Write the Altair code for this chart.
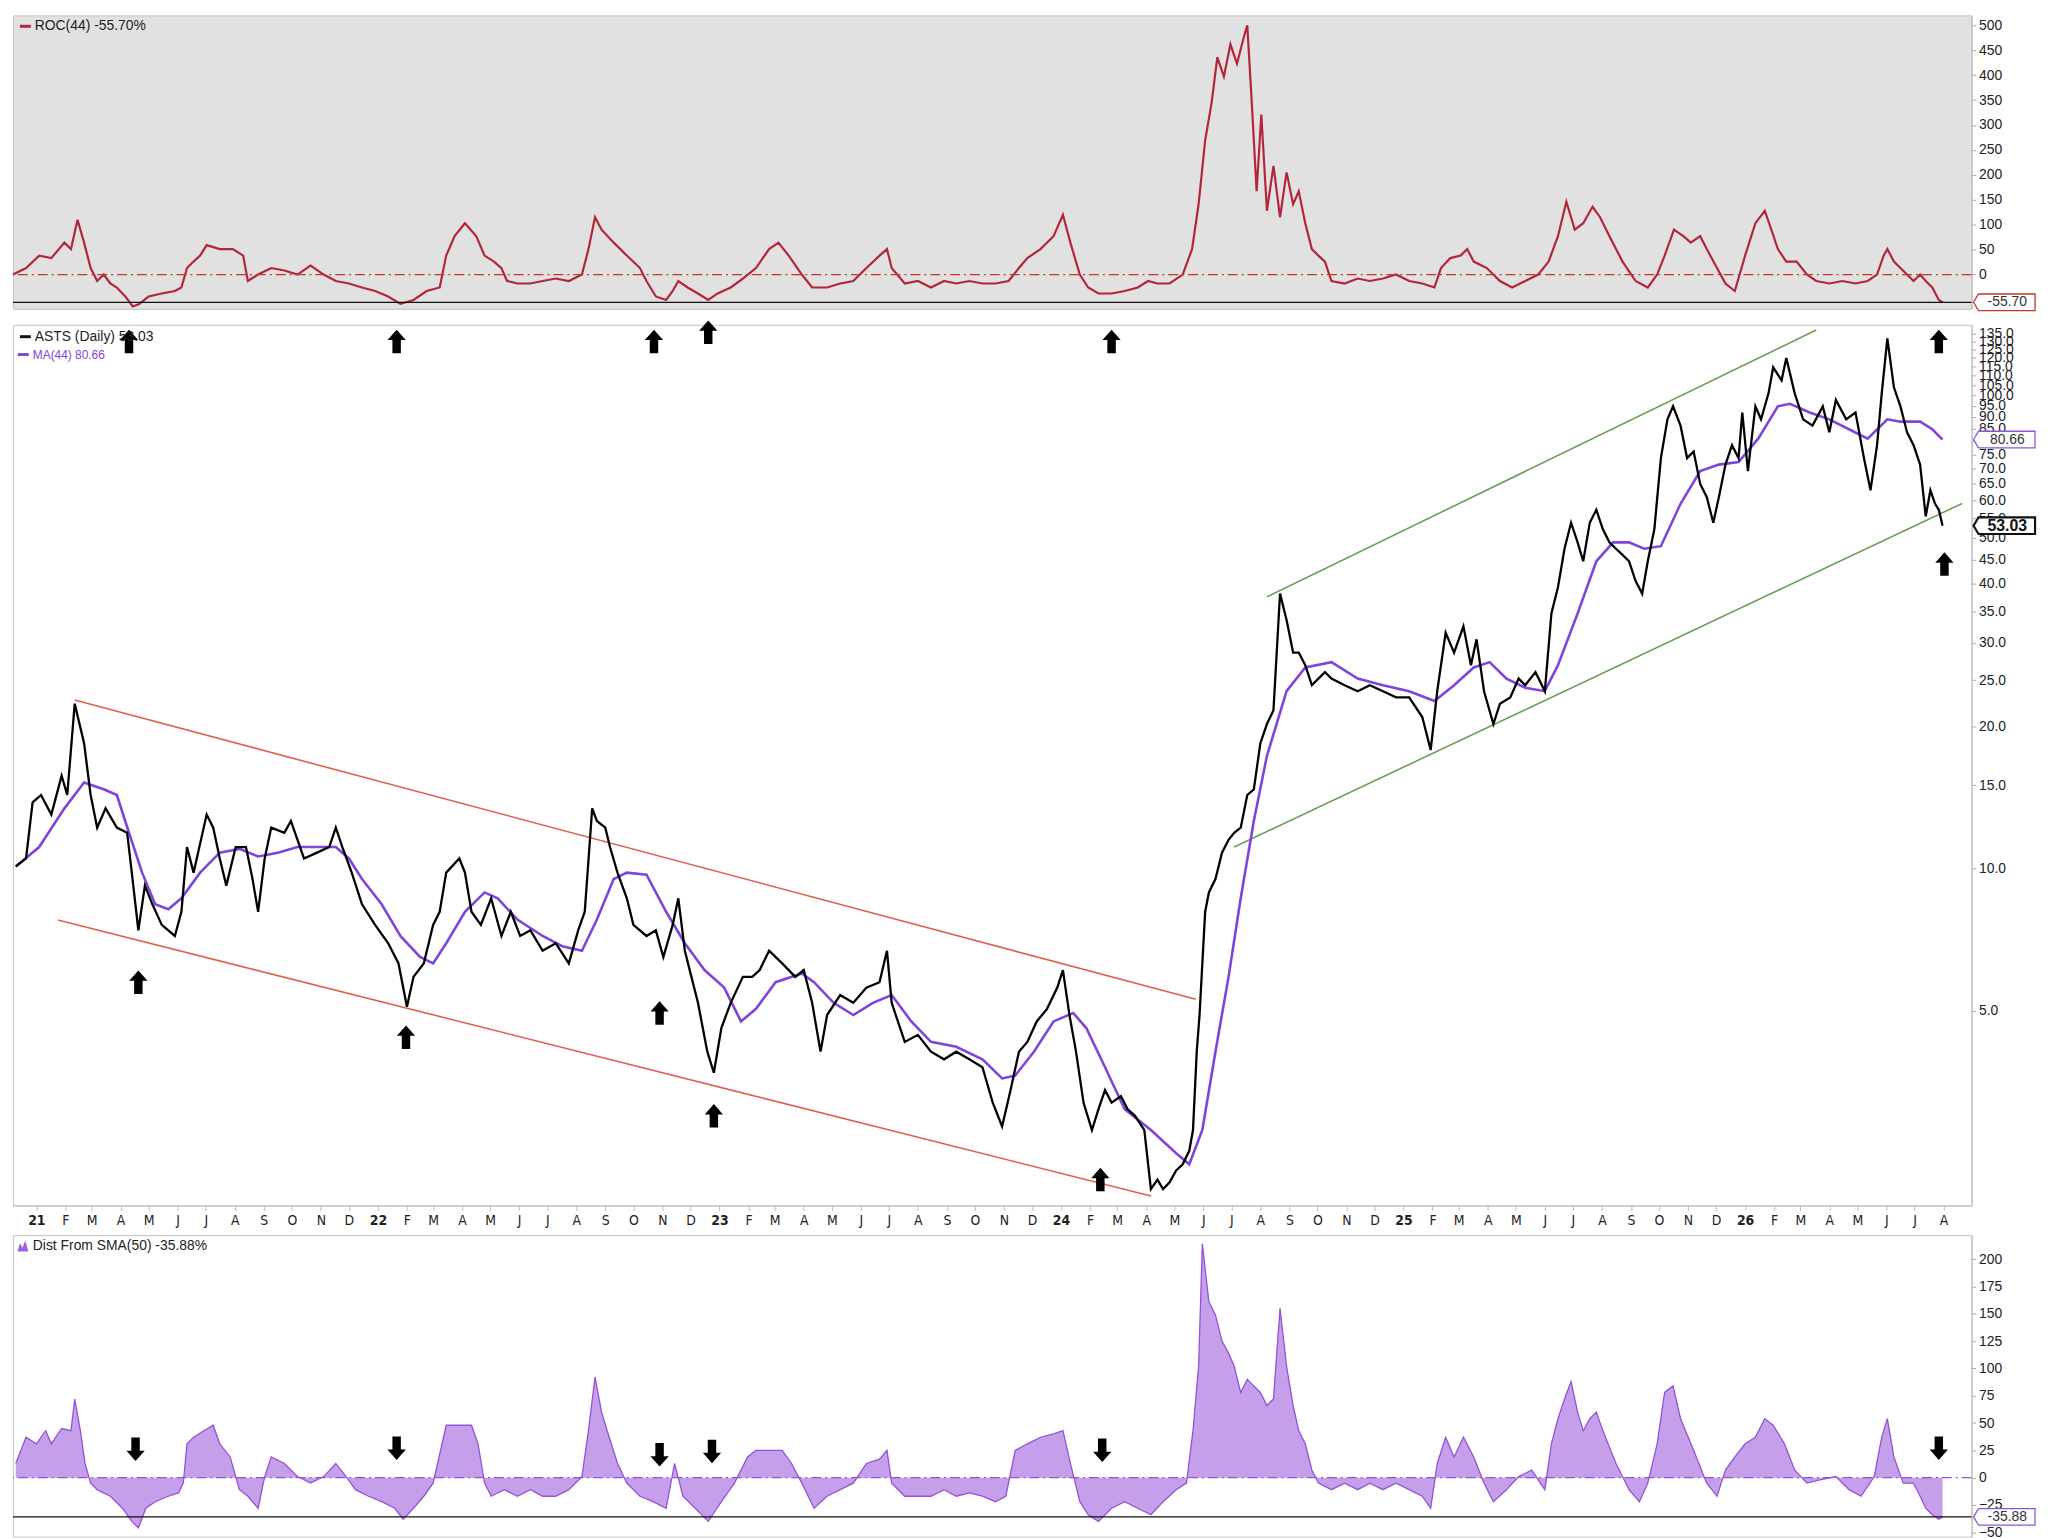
import altair as alt
import pandas as pd

# ---------------- data ----------------
START = pd.Timestamp("2020-12-07")   # day 0 of every *_day list

price_day = [3, 14, 21, 30, 41, 52, 58, 66, 76, 83,
             90, 99, 111, 122, 127, 134, 141, 149, 159, 173,
             180, 186, 193, 207, 214, 221, 228, 238, 249, 256,
             262, 269, 276, 290, 297, 311, 325, 338, 345, 352,
             362, 373, 387, 401, 412, 421, 428, 439, 449, 456,
             463, 477, 483, 490, 500, 511, 522, 532, 542, 553,
             566, 580, 594, 604, 611, 619, 624, 633, 638, 646,
             656, 663, 677, 687, 695, 705, 711, 718, 725, 732,
             742, 749, 757, 767, 780, 790, 798, 808, 822, 836,
             845, 854, 863, 870, 884, 898, 912, 926, 934, 939,
             953, 967, 981, 995, 1008, 1022, 1036, 1047, 1057, 1066,
             1075, 1084, 1094, 1105, 1116, 1122, 1129, 1136, 1144, 1153,
             1160, 1167, 1174, 1184, 1191, 1199, 1209, 1216, 1223, 1229,
             1236, 1243, 1250, 1257, 1261, 1265, 1268, 1274, 1278, 1285,
             1292, 1299, 1305, 1312, 1319, 1326, 1333, 1340, 1347, 1354,
             1361, 1368, 1374, 1381, 1388, 1395, 1402, 1409, 1423, 1437,
             1450, 1464, 1478, 1492, 1506, 1515, 1522, 1531, 1540, 1550,
             1558, 1564, 1572, 1582, 1589, 1600, 1609, 1616, 1627, 1637,
             1644, 1651, 1658, 1665, 1672, 1678, 1685, 1692, 1699, 1706,
             1713, 1720, 1727, 1734, 1741, 1747, 1754, 1761, 1768, 1774,
             1782, 1789, 1796, 1803, 1810, 1817, 1823, 1830, 1837, 1844,
             1848, 1854, 1862, 1868, 1876, 1881, 1890, 1895, 1904, 1913,
             1923, 1934, 1941, 1948, 1959, 1969, 1978, 1985, 1992, 1997,
             2003, 2010, 2017, 2024, 2031, 2038, 2044, 2049, 2054, 2058,
             2062]
price_val = [10.1, 10.5, 13.8, 14.3, 13.0, 15.7, 14.3, 22.3, 18.4, 14.3,
             12.2, 13.4, 12.2, 11.9, 9.8, 7.4, 9.2, 8.4, 7.6, 7.2,
             8.1, 11.1, 9.8, 13.0, 12.2, 10.5, 9.2, 11.1, 11.1, 9.5,
             8.1, 10.5, 12.2, 11.9, 12.6, 10.5, 10.8, 11.1, 12.2, 11.1,
             9.8, 8.4, 7.6, 6.95, 6.3, 5.1, 5.9, 6.3, 7.6, 8.1,
             9.8, 10.5, 9.8, 8.1, 7.6, 8.65, 7.2, 8.1, 7.2, 7.4,
             6.7, 6.95, 6.3, 7.4, 8.1, 13.4, 12.6, 12.2, 11.1, 9.8,
             8.65, 7.6, 7.2, 7.4, 6.5, 7.6, 8.65, 6.7, 5.9, 5.2,
             4.1, 3.7, 4.6, 5.2, 5.9, 5.9, 6.1, 6.7, 6.3, 5.9,
             6.1, 5.2, 4.1, 4.9, 5.4, 5.2, 5.6, 5.75, 6.7, 5.2,
             4.3, 4.45, 4.1, 3.95, 4.1, 3.95, 3.8, 3.2, 2.85, 3.4,
             4.1, 4.3, 4.75, 5.05, 5.6, 6.1, 4.9, 4.1, 3.2, 2.8,
             3.1, 3.4, 3.2, 3.3, 3.1, 3.0, 2.8, 2.1, 2.2, 2.1,
             2.17, 2.3, 2.37, 2.53, 2.8, 4.1, 4.9, 8.1, 8.9, 9.5,
             10.8, 11.5, 11.9, 12.2, 14.3, 14.7, 18.4, 20.2, 21.6, 38.1,
             33.5, 28.6, 28.6, 26.9, 24.4, 25.2, 26.0, 25.2, 24.4, 23.7,
             24.4, 23.7, 23.0, 23.0, 20.9, 17.8, 23.7, 31.5, 28.6, 32.5,
             26.9, 30.5, 23.7, 20.2, 22.3, 23.0, 25.2, 24.4, 26.0, 23.7,
             34.6, 39.3, 47.4, 53.8, 48.9, 44.6, 53.8, 57.3, 52.1, 48.9,
             47.4, 46.0, 44.6, 40.5, 38.1, 44.6, 52.1, 73.7, 89.0, 94.8,
             86.3, 73.7, 76.1, 65.0, 61.0, 53.8, 61.0, 71.4, 78.5, 73.7,
             92.0, 69.2, 94.8, 89.0, 101.0, 114.6, 107.6, 120.0, 101.0, 89.0,
             86.3, 94.8, 83.6, 97.8, 89.0, 92.0, 73.7, 63.0, 78.5, 101.0,
             132.0, 104.0, 94.8, 83.6, 78.5, 71.4, 55.5, 63.0, 59.0, 57.3,
             53.03]

ma_day = [3, 28, 55, 76, 97, 111, 124, 138, 152, 166,
          180, 200, 221, 242, 262, 283, 304, 325, 345, 359,
          373, 394, 414, 435, 449, 463, 483, 504, 518, 539,
          566, 587, 608, 624, 642, 656, 677, 698, 718, 739,
          760, 778, 794, 815, 843, 856, 877, 898, 919, 939,
          960, 981, 1008, 1036, 1057, 1071, 1091, 1112, 1133, 1147,
          1167, 1188, 1216, 1243, 1257, 1271, 1285, 1299, 1312, 1326,
          1340, 1361, 1381, 1409, 1437, 1464, 1492, 1519, 1540, 1561,
          1578, 1596, 1616, 1637, 1651, 1672, 1692, 1710, 1727, 1743,
          1761, 1782, 1803, 1823, 1844, 1865, 1886, 1899, 1920, 1941,
          1962, 1982, 2003, 2017, 2038, 2051, 2062]
ma_val = [10.1, 11.1, 13.4, 15.2, 14.7, 14.3, 11.9, 9.8, 8.4, 8.2,
          8.65, 9.8, 10.8, 11.0, 10.6, 10.8, 11.1, 11.1, 11.1, 10.5,
          9.5, 8.4, 7.2, 6.5, 6.3, 6.95, 8.1, 8.9, 8.65, 7.8,
          7.2, 6.85, 6.7, 7.8, 9.5, 9.8, 9.7, 8.1, 6.95, 6.1,
          5.6, 4.75, 5.05, 5.75, 6.0, 5.75, 5.2, 4.9, 5.2, 5.4,
          4.75, 4.3, 4.2, 3.95, 3.6, 3.65, 4.1, 4.75, 4.95, 4.6,
          3.8, 3.1, 2.8, 2.5, 2.37, 2.8, 4.1, 5.9, 8.65, 12.6,
          17.3, 23.7, 26.6, 27.3, 25.2, 24.4, 23.7, 22.6, 24.4, 26.6,
          27.3, 25.2, 24.1, 23.7, 26.9, 34.6, 44.6, 48.9, 48.9, 47.4,
          48.0, 59.0, 69.2, 71.4, 72.3, 81.0, 94.8, 96.0, 92.0, 89.0,
          84.8, 81.0, 89.0, 88.0, 88.0, 84.8, 80.66]

roc_day = [0, 14, 28, 41, 55, 62, 69, 76, 83, 90,
           97, 104, 111, 120, 128, 135, 145, 159, 173, 180,
           186, 193, 200, 207, 221, 235, 246, 251, 262, 276,
           290, 304, 318, 332, 345, 359, 373, 387, 401, 414,
           428, 442, 456, 463, 472, 483, 495, 504, 514, 522,
           528, 539, 553, 566, 580, 594, 608, 615, 622, 629,
           642, 656, 670, 677, 687, 698, 705, 711, 721, 732,
           743, 753, 767, 780, 794, 808, 818, 829, 843, 854,
           870, 884, 898, 912, 926, 934, 939, 953, 967, 981,
           995, 1008, 1022, 1036, 1050, 1064, 1075, 1084, 1098, 1112,
           1122, 1130, 1140, 1149, 1160, 1174, 1188, 1202, 1213, 1223,
           1236, 1250, 1260, 1267, 1274, 1281, 1287, 1294, 1301, 1308,
           1315, 1319, 1323, 1329, 1334, 1340, 1347, 1354, 1361, 1368,
           1374, 1381, 1388, 1395, 1402, 1409, 1423, 1437, 1450, 1464,
           1478, 1492, 1506, 1519, 1526, 1536, 1547, 1554, 1561, 1575,
           1589, 1602, 1616, 1630, 1641, 1651, 1660, 1669, 1678, 1688,
           1696, 1706, 1720, 1734, 1747, 1757, 1765, 1775, 1785, 1793,
           1803, 1810, 1821, 1830, 1840, 1851, 1862, 1872, 1879, 1886,
           1895, 1906, 1917, 1927, 1941, 1955, 1969, 1982, 1992, 1999,
           2003, 2010, 2017, 2024, 2031, 2038, 2044, 2051, 2058, 2062]
roc_val = [0, 13, 38, 33, 64, 51, 110, 64, 13, -13,
           0, -18, -26, -44, -64, -59, -44, -38, -33, -26,
           13, 26, 38, 59, 51, 51, 38, -13, 0, 13,
           8, 0, 18, 0, -13, -18, -26, -33, -44, -59,
           -51, -33, -26, 38, 77, 103, 77, 38, 26, 13,
           -13, -18, -18, -13, -8, -13, 0, 51, 115, 90,
           64, 38, 13, -13, -44, -51, -33, -13, -26, -38,
           -51, -38, -26, -8, 13, 51, 64, 38, 0, -26,
           -26, -18, -13, 13, 38, 51, 13, -18, -13, -26,
           -13, -18, -13, -18, -18, -13, 13, 33, 51, 77,
           120, 64, 0, -26, -38, -38, -33, -26, -13, -18,
           -18, 0, 51, 141, 269, 346, 436, 397, 462, 423,
           474, 500, 372, 167, 321, 128, 218, 115, 205, 141,
           167, 103, 51, 38, 26, -13, -18, -8, -13, -8,
           0, -13, -18, -26, 13, 33, 38, 51, 26, 13,
           -13, -26, -13, 0, 26, 77, 146, 90, 103, 136,
           115, 77, 26, -13, -26, 0, 38, 90, 77, 64,
           77, 51, 13, -18, -33, 38, 103, 128, 90, 51,
           26, 26, 0, -13, -18, -13, -18, -13, 0, 38,
           51, 26, 13, 0, -13, 0, -13, -26, -51, -55.7]

dist_day = [3, 14, 25, 35, 41, 52, 62, 66, 72, 77,
            83, 90, 104, 117, 127, 134, 142, 152, 166, 177,
            182, 186, 193, 204, 214, 221, 232, 242, 251, 262,
            269, 276, 290, 304, 318, 332, 345, 356, 366, 380,
            394, 408, 417, 428, 439, 449, 463, 477, 490, 497,
            504, 511, 525, 539, 553, 566, 580, 594, 608, 615,
            622, 629, 635, 646, 656, 670, 684, 698, 707, 716,
            729, 743, 757, 771, 785, 794, 808, 822, 832, 843,
            856, 870, 884, 898, 912, 926, 934, 939, 953, 967,
            981, 995, 1008, 1022, 1036, 1050, 1061, 1071, 1084, 1098,
            1112, 1122, 1130, 1140, 1149, 1160, 1174, 1188, 1202, 1216,
            1229, 1243, 1254, 1261, 1267, 1271, 1278, 1285, 1292, 1299,
            1305, 1312, 1319, 1326, 1333, 1340, 1347, 1354, 1361, 1368,
            1374, 1381, 1388, 1395, 1409, 1423, 1437, 1450, 1464, 1478,
            1492, 1506, 1515, 1522, 1531, 1540, 1550, 1561, 1572, 1582,
            1596, 1609, 1623, 1637, 1644, 1651, 1658, 1665, 1672, 1678,
            1685, 1692, 1699, 1713, 1727, 1738, 1747, 1757, 1765, 1774,
            1782, 1796, 1810, 1821, 1830, 1840, 1851, 1862, 1872, 1881,
            1893, 1904, 1917, 1931, 1948, 1962, 1975, 1989, 1997, 2003,
            2010, 2020, 2031, 2038, 2044, 2051, 2058, 2062]
dist_val = [13, 37, 31, 43, 31, 45, 43, 72, 43, 13,
            -5, -11, -17, -28, -40, -46, -28, -22, -17, -14,
            -5, 31, 37, 43, 48, 31, 19, -11, -17, -28,
            1, 19, 13, 1, -5, 1, 13, 1, -11, -17,
            -22, -28, -38, -28, -17, -5, 48, 48, 48, 31,
            -5, -17, -11, -17, -11, -17, -17, -11, 1, 43,
            92, 60, 43, 13, -5, -17, -22, -28, 13, -17,
            -28, -40, -22, -5, 19, 25, 25, 25, 13, -5,
            -28, -17, -11, -5, 13, 17, 25, -5, -17, -17,
            -17, -11, -17, -14, -17, -22, -17, 25, 31, 37,
            40, 43, 13, -22, -34, -40, -28, -22, -28, -34,
            -22, -11, -5, 43, 102, 214, 161, 149, 125, 114,
            102, 78, 90, 84, 78, 66, 72, 155, 102, 66,
            43, 31, 7, -5, -11, -5, -11, -5, -11, -5,
            -11, -17, -28, 13, 37, 19, 37, 19, -5, -22,
            -11, 1, 7, -11, 31, 54, 72, 88, 60, 43,
            54, 60, 43, 13, -11, -22, -5, 31, 78, 84,
            54, 25, -5, -17, 7, 19, 31, 37, 54, 48,
            31, 7, -5, -2, 1, -11, -17, 1, 37, 54,
            19, -5, -5, -17, -28, -34, -38, -35.88]

# trend channels (day, price) endpoints
red_line_id = ["upper", "upper", "lower", "lower"]
red_line_day = [66, 1264, 48, 1216]
red_line_val = [22.7, 5.29, 7.78, 2.03]
green_line_id = ["upper", "upper", "lower", "lower"]
green_line_day = [1340, 1927, 1305, 2083]
green_line_val = [37.5, 137.5, 11.1, 59.1]

# arrow annotations
top_arrow_day = [124, 410, 685, 743, 1174, 2058]
top_arrow_val = [130, 130, 130, 136, 130, 130]
price_arrow_day = [134, 420, 691, 749, 1162, 2064]
price_arrow_val = [5.75, 4.4, 4.95, 3.0, 2.2, 44]
dist_arrow_day = [131, 410, 691, 747, 1164, 2058]
dist_arrow_val = [26, 27, 21, 24, 25, 27]

price_ticks = [5, 10, 15, 20, 25, 30, 35, 40, 45, 50, 55, 60, 65, 70, 75, 80,
               85, 90, 95, 100, 105, 110, 115, 120, 125, 130, 135]
roc_ticks = [0, 50, 100, 150, 200, 250, 300, 350, 400, 450, 500]
dist_ticks = [-50, -25, 0, 25, 50, 75, 100, 125, 150, 175, 200]

ROC_LAST, MA_LAST, PRICE_LAST, DIST_LAST = -55.70, 80.66, 53.03, -35.88

# ---------------- helpers ----------------
def dates(days):
    return [(START + pd.Timedelta(days=int(d))).strftime("%Y-%m-%dT00:00:00") for d in days]

def frame(days, vals, **extra):
    df = pd.DataFrame({"d": dates(days), "v": vals})
    for k, v in extra.items():
        df[k] = v
    return df

W = 1975
H_ROC, H_PRICE, H_DIST = 296, 888, 304
FONT = "Liberation Sans"
NARROW = "Liberation Sans Narrow, DejaVu Sans Condensed, sans-serif"

XDOM = [alt.DateTime(year=2020, month=12, date=7), alt.DateTime(year=2026, month=8, date=31)]
xscale = alt.Scale(domain=XDOM)
x_hidden = alt.X("d:T", scale=xscale, axis=None, title=None)
x_axis = alt.X(
    "d:T", scale=xscale, title=None,
    axis=alt.Axis(
        tickCount={"interval": "month", "step": 1},
        labelExpr="month(datum.value) == 0 ? timeFormat(datum.value, '%y') : slice(timeFormat(datum.value, '%b'), 0, 1)",
        labelFont=NARROW, labelFontSize=14, labelColor="#222",
        labelFontWeight={"condition": {"test": "month(datum.value) == 0", "value": "bold"}, "value": "normal"},
        labelOverlap=False, labelPadding=3, grid=False,
        tickSize=5, tickColor="#bbbbbb", domainColor="#bbbbbb",
    ),
)

def yaxis(values, fmt):
    return alt.Axis(orient="right", values=values, format=fmt, grid=False,
                    labelFont=FONT, labelFontSize=14, labelColor="#222",
                    labelOverlap=False, tickSize=4, tickColor="#aaaaaa",
                    domainColor="#bbbbbb", labelPadding=3)

ARROW_UP = "M0,-1 L0.78,-0.12 L0.36,-0.12 L0.36,1 L-0.36,1 L-0.36,-0.12 L-0.78,-0.12 Z"
ARROW_DOWN = "M0,1 L0.78,0.12 L0.36,0.12 L0.36,-1 L-0.36,-1 L-0.36,0.12 L-0.78,0.12 Z"
TAG = "M-1,0 L-0.84,-0.27 L1,-0.27 L1,0.27 L-0.84,0.27 Z"
ICON = "M-1,1 L-0.55,-0.5 L-0.1,0.3 L0.45,-1 L1,1 Z"

def tag_layers(y, value, color, bold=False):
    df = pd.DataFrame({"v": [value], "t": [f"{value:.2f}"]})
    box = alt.Chart(df).mark_point(
        shape=TAG, size=3844, filled=True, fill="white", stroke=color,
        strokeWidth=2.2 if bold else 1.3, opacity=1,
    ).encode(x=alt.value(W + 33), y=y)
    txt = alt.Chart(df).mark_text(
        font=FONT, fontSize=16 if bold else 14, fontWeight="bold" if bold else "normal",
        color="#111" if bold else "#333", align="center", baseline="middle",
    ).encode(x=alt.value(W + 36), y=y, text="t:N")
    return [box, txt]

def legend(text, xpx, ypx, color, size=14, dash_color=None):
    df = pd.DataFrame({"t": [text]})
    layers = [alt.Chart(df).mark_text(font=FONT, fontSize=size, color=color, align="left",
                                      baseline="middle").encode(
        x=alt.value(xpx), y=alt.value(ypx), text="t:N")]
    if dash_color:
        layers.append(alt.Chart(df).mark_rule(color=dash_color, strokeWidth=3).encode(
            x=alt.value(xpx - 15), x2=alt.value(xpx - 4), y=alt.value(ypx)))
    return layers

# ---------------- ROC panel ----------------
y_roc = alt.Y("v:Q", scale=alt.Scale(domain=[-69, 520], nice=False, zero=False),
              axis=yaxis(roc_ticks, "d"), title=None)
roc_df = frame(roc_day, roc_val)
roc_layers = [
    alt.Chart(roc_df).mark_line(color="#b3263a", strokeWidth=2.2).encode(x=x_hidden, y=y_roc),
    alt.Chart(pd.DataFrame({"v": [0]})).mark_rule(color="#c0392b", strokeWidth=1.3,
                                                  strokeDash=[10, 4, 2, 4]).encode(y=y_roc),
    alt.Chart(pd.DataFrame({"v": [ROC_LAST]})).mark_rule(color="#111", strokeWidth=1.3).encode(y=y_roc),
]
roc_layers += legend(f"ROC(44) {ROC_LAST:.2f}%", 22, 11, "#222", 14, "#b3263a")
roc_layers += tag_layers(y_roc, ROC_LAST, "#c0392b")
roc = alt.layer(*roc_layers).properties(
    width=W, height=H_ROC, view=alt.ViewBackground(fill="#e1e1e1", stroke="#c4c4c4"))

# ---------------- price panel ----------------
y_price = alt.Y("v:Q", scale=alt.Scale(type="log", domain=[1.94, 141], nice=False),
                axis=yaxis(price_ticks, ".1f"), title=None)
price_df = frame(price_day, price_val)
ma_df = frame(ma_day, ma_val)
red_df = frame(red_line_day, red_line_val, g=red_line_id)
green_df = frame(green_line_day, green_line_val, g=green_line_id)
top_arr = frame(top_arrow_day, top_arrow_val)
price_arr = frame(price_arrow_day, price_arrow_val)

price_layers = [
    alt.Chart(red_df).mark_line(color="#e0604d", strokeWidth=1.6).encode(x=x_axis, y=y_price, detail="g:N"),
    alt.Chart(green_df).mark_line(color="#6a9e58", strokeWidth=1.6).encode(x=x_axis, y=y_price, detail="g:N"),
    alt.Chart(ma_df).mark_line(color="#7f44dc", strokeWidth=2.6).encode(x=x_axis, y=y_price),
    alt.Chart(price_df).mark_line(color="#000000", strokeWidth=2.3).encode(x=x_axis, y=y_price),
    alt.Chart(top_arr).mark_point(shape=ARROW_UP, size=560, filled=True, color="#000", opacity=1).encode(x=x_axis, y=y_price),
    alt.Chart(price_arr).mark_point(shape=ARROW_UP, size=560, filled=True, color="#000", opacity=1).encode(x=x_axis, y=y_price),
]
price_layers += legend(f"ASTS (Daily) {PRICE_LAST:.2f}", 22, 12, "#222", 14, "#111")
price_layers += legend(f"MA(44) {MA_LAST:.2f}", 20, 30, "#7f44dc", 12, "#7f44dc")
price_layers += tag_layers(y_price, MA_LAST, "#8a55e0")
price_layers += tag_layers(y_price, PRICE_LAST, "#111", bold=True)
price = alt.layer(*price_layers).properties(
    width=W, height=H_PRICE, view=alt.ViewBackground(fill="white", stroke="#c4c4c4"))

# ---------------- Dist panel ----------------
y_dist = alt.Y("v:Q", scale=alt.Scale(domain=[-54, 222], nice=False, zero=False),
               axis=yaxis(dist_ticks, "d"), title=None)
dist_df = frame(dist_day, dist_val)
dist_arr = frame(dist_arrow_day, dist_arrow_val)
dist_layers = [
    alt.Chart(dist_df).mark_area(color="#bf95e8", opacity=0.9,
                                 line={"color": "#9352d8", "strokeWidth": 1.3}).encode(
        x=x_hidden, y=y_dist, y2=alt.datum(0)),
    alt.Chart(pd.DataFrame({"v": [0]})).mark_rule(color="#9352d8", strokeWidth=1.3,
                                                  strokeDash=[10, 4, 2, 4]).encode(y=y_dist),
    alt.Chart(pd.DataFrame({"v": [DIST_LAST]})).mark_rule(color="#111", strokeWidth=1.3).encode(y=y_dist),
    alt.Chart(dist_arr).mark_point(shape=ARROW_DOWN, size=560, filled=True, color="#000", opacity=1).encode(x=x_hidden, y=y_dist),
    alt.Chart(pd.DataFrame({"t": ["i"]})).mark_point(shape=ICON, size=120, filled=True, color="#9c5fe0", opacity=1).encode(
        x=alt.value(10), y=alt.value(11)),
]
dist_layers += legend(f"Dist From SMA(50) {DIST_LAST:.2f}%", 20, 11, "#222", 14)
dist_layers += tag_layers(y_dist, DIST_LAST, "#8a55e0")
dist = alt.layer(*dist_layers).properties(
    width=W, height=H_DIST, view=alt.ViewBackground(fill="white", stroke="#c4c4c4"))

chart = alt.vconcat(roc, price, dist, spacing=6).properties(
    padding={"left": 0, "top": 0, "right": 0, "bottom": 0}, background="white"
).configure_view(stroke="#c4c4c4")

chart.save("out.html", embed_options={"renderer": "svg", "actions": False})
